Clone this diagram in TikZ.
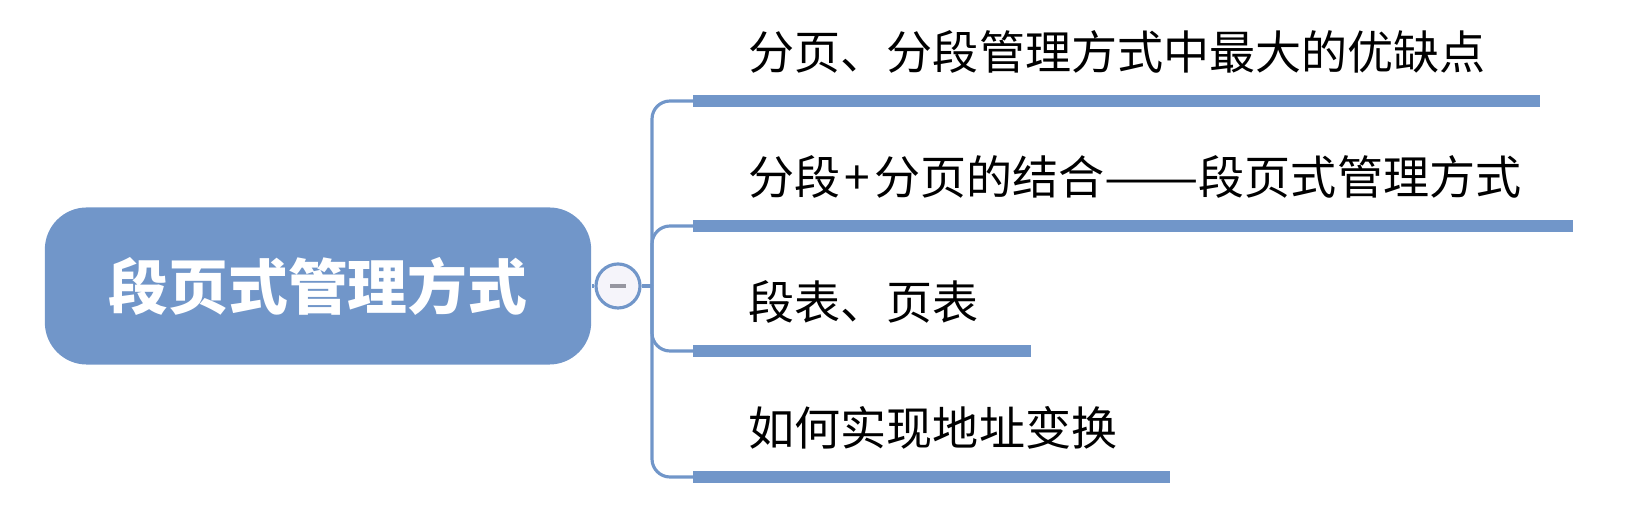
\documentclass[tikz,border=0pt]{standalone}
\usepackage{fontspec}
\usepackage{graphicx}
\setmainfont{Noto Sans CJK SC}
\definecolor{mapblue}{RGB}{113,150,201}
\definecolor{knobfill}{RGB}{245,244,250}
\definecolor{knobdash}{RGB}{150,150,160}

\begin{document}
\begin{tikzpicture}[x=0.01cm,y=-0.01cm,
    root node/.style={rectangle,rounded corners=0.42cm,fill=mapblue,text=white,minimum width=5.46cm,minimum height=1.57cm,inner sep=0pt,font=\bfseries\fontsize{17}{20}\selectfont},
    knob/.style={circle,draw=mapblue,line width=0.9pt,fill=knobfill,minimum size=0.44cm,inner sep=0pt},
    leaf/.style={anchor=base west,inner sep=0pt,font=\fontsize{13.1}{16}\selectfont},
    link/.style={draw=mapblue,line width=0.9pt,rounded corners=0.18cm},
    bar/.style={draw=mapblue,line width=0.12cm}]
    \useasboundingbox (0,0) rectangle (1646,516);

    \node[root node] (root) at (318,286) {段页式管理方式};
    \node[knob] (knob) at (618,286) {};
    \coordinate (fork) at (652,286);

    \coordinate (b1s) at (693,101);  \coordinate (b1e) at (1540,101);
    \coordinate (b2s) at (693,226);  \coordinate (b2e) at (1573,226);
    \coordinate (b3s) at (693,351);  \coordinate (b3e) at (1031,351);
    \coordinate (b4s) at (693,477);  \coordinate (b4e) at (1170,477);

    \node[leaf] (t1) at ([shift={(55,-31)}]b1s) {分页、分段管理方式中最大的优缺点};
    \node[leaf] (t2) at ([shift={(55,-31)}]b2s) {分段\makebox[0.72em]{+}分页的结合\resizebox{2.05em}{\height}{——}段页式管理方式};
    \node[leaf] (t3) at ([shift={(55,-31)}]b3s) {段表、页表};
    \node[leaf] (t4) at ([shift={(55,-31)}]b4s) {如何实现地址变换};

    % links from the root
    \draw[link] (root) -- (knob);
    \draw[link] (knob) -- (fork);
    \draw[link] (fork) |- (b1s);
    \draw[link] (fork) |- (b2s);
    \draw[link] (fork) |- (b3s);
    \draw[link] (fork) |- (b4s);
    \draw[knobdash,line width=1.2pt] ([xshift=-0.08cm]knob.center) -- ([xshift=0.08cm]knob.center);

    % underline bars
    \draw[bar] (b1s) -- (b1e);
    \draw[bar] (b2s) -- (b2e);
    \draw[bar] (b3s) -- (b3e);
    \draw[bar] (b4s) -- (b4e);
\end{tikzpicture}
\end{document}
